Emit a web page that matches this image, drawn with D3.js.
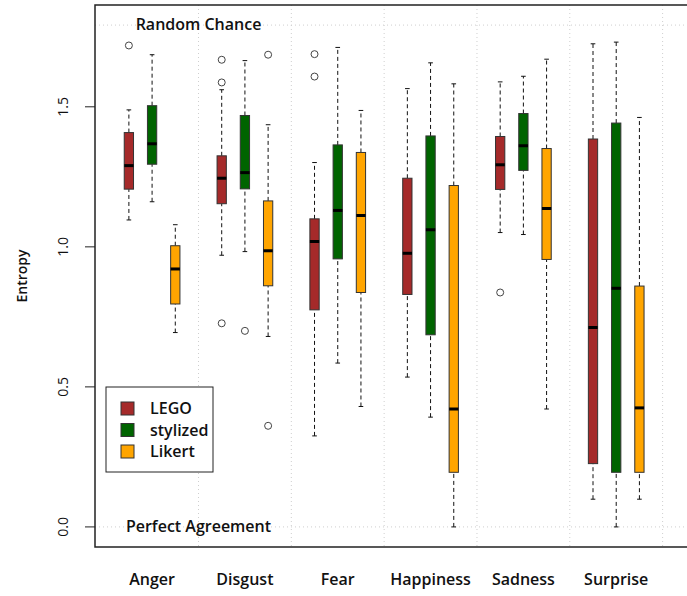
<!DOCTYPE html>
<html>
<head>
<meta charset="utf-8">
<script src="https://cdn.jsdelivr.net/npm/d3@7"></script>
<style>
  body { margin: 0; background: #fff; }
  text { font-family: "Open Sans", "DejaVu Sans", sans-serif; fill: #111; }
</style>
</head>
<body>
<div id="chart"></div>
<script>
// Emotions and the three annotation methods
var emotions = ["Anger", "Disgust", "Fear", "Happiness", "Sadness", "Surprise"];
var methods = ["LEGO", "stylized", "Likert"];
var colors = ["#A52A2A", "#006400", "#FFA500"];

// Box stats per emotion, one row per method: [lower whisker, Q1, median, Q3, upper whisker]
var legoStats = [
  [1.096, 1.206, 1.290, 1.408, 1.489],
  [0.970, 1.154, 1.245, 1.325, 1.561],
  [0.325, 0.775, 1.019, 1.100, 1.301],
  [0.535, 0.830, 0.977, 1.245, 1.565],
  [1.051, 1.205, 1.293, 1.394, 1.589],
  [0.099, 0.226, 0.712, 1.385, 1.725]
];
var stylizedStats = [
  [1.161, 1.295, 1.368, 1.504, 1.686],
  [0.983, 1.207, 1.265, 1.469, 1.665],
  [0.585, 0.957, 1.130, 1.364, 1.712],
  [0.392, 0.686, 1.061, 1.396, 1.657],
  [1.044, 1.273, 1.361, 1.476, 1.609],
  [0.000, 0.195, 0.852, 1.442, 1.731]
];
var likertStats = [
  [0.694, 0.796, 0.921, 1.004, 1.079],
  [0.680, 0.861, 0.986, 1.164, 1.436],
  [0.430, 0.837, 1.112, 1.337, 1.487],
  [0.000, 0.195, 0.421, 1.219, 1.582],
  [0.421, 0.955, 1.137, 1.351, 1.670],
  [0.099, 0.195, 0.425, 0.860, 1.462]
];

// Outliers per emotion
var legoOutliers = [[1.719], [1.668, 1.587, 0.727], [1.688, 1.608], [], [0.837], []];
var stylizedOutliers = [[], [0.700], [], [], [], []];
var likertOutliers = [[], [1.686, 0.361], [], [], [], []];

var yTicks = [0, 0.5, 1.0, 1.5];
var randomChance = Math.log(6);

var width = 687, height = 596;

// Box positions: 1,2,3 then 5,6,7 ... leaving a gap between emotions
var x = d3.scaleLinear().domain([-0.46, 25.46]).range([95, 696.5]);
var y = d3.scaleLinear().domain([-0.0717, 1.8635]).range([547, 5]);
var boxW = x(0.4) - x(0);

var svg = d3.select("#chart").append("svg")
    .attr("width", width)
    .attr("height", height);

// Dotted grid: group separators and the two reference levels
var grid = svg.append("g").attr("class", "grid");
d3.range(4, 25, 4).forEach(function(p) {
  grid.append("line")
    .attr("x1", x(p)).attr("x2", x(p))
    .attr("y1", 5).attr("y2", 547)
    .style("stroke", "#cfcfcf")
    .style("stroke-dasharray", "1,3");
});
[0, randomChance].forEach(function(v) {
  grid.append("line")
    .attr("x1", 95).attr("x2", width)
    .attr("y1", y(v)).attr("y2", y(v))
    .style("stroke", "#cfcfcf")
    .style("stroke-dasharray", "1,3");
});

// Build one list of boxes from the arrays
var allStats = [legoStats, stylizedStats, likertStats];
var allOutliers = [legoOutliers, stylizedOutliers, likertOutliers];
var boxes = [];
emotions.forEach(function(e, i) {
  methods.forEach(function(m, j) {
    boxes.push({
      pos: i * 4 + j + 1,
      s: allStats[j][i],
      out: allOutliers[j][i],
      color: colors[j]
    });
  });
});

var g = svg.append("g").attr("class", "boxes");

boxes.forEach(function(b) {
  var cx = x(b.pos);
  // whiskers
  [[b.s[0], b.s[1]], [b.s[3], b.s[4]]].forEach(function(w) {
    g.append("line")
      .attr("x1", cx).attr("x2", cx)
      .attr("y1", y(w[0])).attr("y2", y(w[1]))
      .style("stroke", "#111")
      .style("stroke-dasharray", "4,3");
  });
  // staples
  [b.s[0], b.s[4]].forEach(function(v) {
    g.append("line")
      .attr("x1", cx - boxW / 4).attr("x2", cx + boxW / 4)
      .attr("y1", y(v)).attr("y2", y(v))
      .style("stroke", "#111");
  });
  // box
  g.append("rect")
    .attr("x", cx - boxW / 2)
    .attr("y", y(b.s[3]))
    .attr("width", boxW)
    .attr("height", y(b.s[1]) - y(b.s[3]))
    .style("fill", b.color)
    .style("stroke", "#333");
  // median
  g.append("line")
    .attr("x1", cx - boxW / 2).attr("x2", cx + boxW / 2)
    .attr("y1", y(b.s[2])).attr("y2", y(b.s[2]))
    .style("stroke", "#000")
    .style("stroke-width", "3px");
  // outliers
  b.out.forEach(function(v) {
    g.append("circle")
      .attr("cx", cx).attr("cy", y(v))
      .attr("r", 3.5)
      .style("fill", "none")
      .style("stroke", "#444");
  });
});

// Frame (right side falls outside the picture)
svg.append("path")
  .attr("d", "M" + width + ",5H95V547H" + width)
  .style("fill", "none")
  .style("stroke", "#222")
  .style("stroke-width", "1.5px");

// Y axis
var yAxis = svg.append("g");
yTicks.forEach(function(t) {
  yAxis.append("line")
    .attr("x1", 85).attr("x2", 95)
    .attr("y1", y(t)).attr("y2", y(t))
    .style("stroke", "#222");
  yAxis.append("text")
    .attr("transform", "translate(68," + y(t) + ") rotate(-90)")
    .style("text-anchor", "middle")
    .style("font-size", "14px")
    .text(d3.format(".1f")(t));
});

svg.append("text")
  .attr("transform", "translate(27,276) rotate(-90)")
  .style("text-anchor", "middle")
  .style("font-size", "14px")
  .style("font-weight", "600")
  .text("Entropy");

// Category labels
emotions.forEach(function(e, i) {
  svg.append("text")
    .attr("x", x(i * 4 + 2))
    .attr("y", 585)
    .style("text-anchor", "middle")
    .style("font-size", "16px")
    .style("font-weight", "600")
    .text(e);
});

// Reference annotations
svg.append("text")
  .attr("x", x(4)).attr("y", y(randomChance) + 5)
  .style("text-anchor", "middle")
  .style("font-size", "16px")
  .style("font-weight", "600")
  .text("Random Chance");

svg.append("text")
  .attr("x", x(4)).attr("y", y(0) + 5)
  .style("text-anchor", "middle")
  .style("font-size", "16px")
  .style("font-weight", "600")
  .text("Perfect Agreement");

// Legend
var legend = svg.append("g").attr("transform", "translate(106,387)");
legend.append("rect")
  .attr("width", 107).attr("height", 85)
  .style("fill", "#fff")
  .style("stroke", "#222");
methods.forEach(function(m, j) {
  legend.append("rect")
    .attr("x", 15).attr("y", 15 + j * 21.5)
    .attr("width", 13).attr("height", 13)
    .style("fill", colors[j])
    .style("stroke", "#333");
  legend.append("text")
    .attr("x", 44).attr("y", 27 + j * 21.5)
    .style("font-size", "16px")
    .style("font-weight", "600")
    .text(m);
});
</script>
</body>
</html>
